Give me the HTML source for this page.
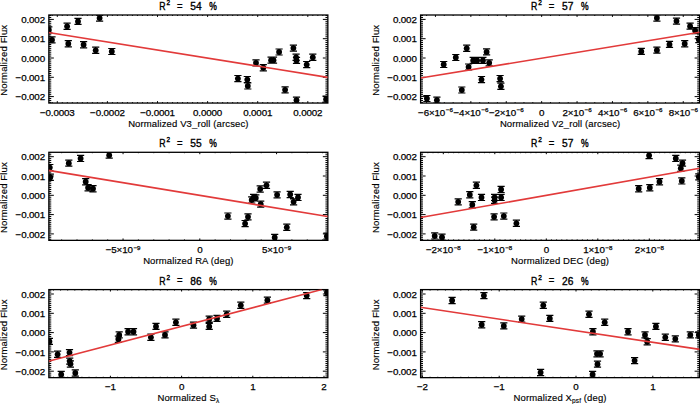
<!DOCTYPE html><html><head><meta charset="utf-8"><style>html,body{margin:0;padding:0;background:#fff;overflow:hidden}svg{display:block}text{stroke:#000;stroke-width:0.15px}.tt{stroke-width:0.35px}.tl{font-size:9.8px;letter-spacing:-0.15px;stroke-width:0.25px}</style></head><body>
<svg width="700" height="404" viewBox="0 0 700 404" font-family='"Liberation Sans", sans-serif' font-size="9.5">
<rect width="700" height="404" fill="#fff"/>
<g><clipPath id="c00"><rect x="48.85" y="15.00" width="279.00" height="88.05"/></clipPath><path d="M48.85 15.54h2.4 M327.85 15.54h-2.4 M48.85 17.47h2.4 M327.85 17.47h-2.4 M48.85 19.40h5.0 M327.85 19.40h-5.0 M48.85 21.33h2.4 M327.85 21.33h-2.4 M48.85 23.26h2.4 M327.85 23.26h-2.4 M48.85 25.19h2.4 M327.85 25.19h-2.4 M48.85 27.12h2.4 M327.85 27.12h-2.4 M48.85 29.05h2.4 M327.85 29.05h-2.4 M48.85 30.98h2.4 M327.85 30.98h-2.4 M48.85 32.91h2.4 M327.85 32.91h-2.4 M48.85 34.84h2.4 M327.85 34.84h-2.4 M48.85 36.77h2.4 M327.85 36.77h-2.4 M48.85 38.70h5.0 M327.85 38.70h-5.0 M48.85 40.63h2.4 M327.85 40.63h-2.4 M48.85 42.56h2.4 M327.85 42.56h-2.4 M48.85 44.49h2.4 M327.85 44.49h-2.4 M48.85 46.42h2.4 M327.85 46.42h-2.4 M48.85 48.35h2.4 M327.85 48.35h-2.4 M48.85 50.28h2.4 M327.85 50.28h-2.4 M48.85 52.21h2.4 M327.85 52.21h-2.4 M48.85 54.14h2.4 M327.85 54.14h-2.4 M48.85 56.07h2.4 M327.85 56.07h-2.4 M48.85 58.00h5.0 M327.85 58.00h-5.0 M48.85 59.93h2.4 M327.85 59.93h-2.4 M48.85 61.86h2.4 M327.85 61.86h-2.4 M48.85 63.79h2.4 M327.85 63.79h-2.4 M48.85 65.72h2.4 M327.85 65.72h-2.4 M48.85 67.65h2.4 M327.85 67.65h-2.4 M48.85 69.58h2.4 M327.85 69.58h-2.4 M48.85 71.51h2.4 M327.85 71.51h-2.4 M48.85 73.44h2.4 M327.85 73.44h-2.4 M48.85 75.37h2.4 M327.85 75.37h-2.4 M48.85 77.30h5.0 M327.85 77.30h-5.0 M48.85 79.23h2.4 M327.85 79.23h-2.4 M48.85 81.16h2.4 M327.85 81.16h-2.4 M48.85 83.09h2.4 M327.85 83.09h-2.4 M48.85 85.02h2.4 M327.85 85.02h-2.4 M48.85 86.95h2.4 M327.85 86.95h-2.4 M48.85 88.88h2.4 M327.85 88.88h-2.4 M48.85 90.81h2.4 M327.85 90.81h-2.4 M48.85 92.74h2.4 M327.85 92.74h-2.4 M48.85 94.67h2.4 M327.85 94.67h-2.4 M48.85 96.60h5.0 M327.85 96.60h-5.0 M48.85 98.53h2.4 M327.85 98.53h-2.4 M48.85 100.46h2.4 M327.85 100.46h-2.4 M48.85 102.39h2.4 M327.85 102.39h-2.4 M52.29 103.05v-0.9 M52.29 15.00v0.9 M57.30 103.05v-1.9 M57.30 15.00v1.9 M62.31 103.05v-0.9 M62.31 15.00v0.9 M67.32 103.05v-0.9 M67.32 15.00v0.9 M72.33 103.05v-0.9 M72.33 15.00v0.9 M77.34 103.05v-0.9 M77.34 15.00v0.9 M82.35 103.05v-0.9 M82.35 15.00v0.9 M87.36 103.05v-0.9 M87.36 15.00v0.9 M92.37 103.05v-0.9 M92.37 15.00v0.9 M97.38 103.05v-0.9 M97.38 15.00v0.9 M102.39 103.05v-0.9 M102.39 15.00v0.9 M107.40 103.05v-1.9 M107.40 15.00v1.9 M112.41 103.05v-0.9 M112.41 15.00v0.9 M117.42 103.05v-0.9 M117.42 15.00v0.9 M122.43 103.05v-0.9 M122.43 15.00v0.9 M127.44 103.05v-0.9 M127.44 15.00v0.9 M132.45 103.05v-0.9 M132.45 15.00v0.9 M137.46 103.05v-0.9 M137.46 15.00v0.9 M142.47 103.05v-0.9 M142.47 15.00v0.9 M147.48 103.05v-0.9 M147.48 15.00v0.9 M152.49 103.05v-0.9 M152.49 15.00v0.9 M157.50 103.05v-1.9 M157.50 15.00v1.9 M162.51 103.05v-0.9 M162.51 15.00v0.9 M167.52 103.05v-0.9 M167.52 15.00v0.9 M172.53 103.05v-0.9 M172.53 15.00v0.9 M177.54 103.05v-0.9 M177.54 15.00v0.9 M182.55 103.05v-0.9 M182.55 15.00v0.9 M187.56 103.05v-0.9 M187.56 15.00v0.9 M192.57 103.05v-0.9 M192.57 15.00v0.9 M197.58 103.05v-0.9 M197.58 15.00v0.9 M202.59 103.05v-0.9 M202.59 15.00v0.9 M207.60 103.05v-1.9 M207.60 15.00v1.9 M212.61 103.05v-0.9 M212.61 15.00v0.9 M217.62 103.05v-0.9 M217.62 15.00v0.9 M222.63 103.05v-0.9 M222.63 15.00v0.9 M227.64 103.05v-0.9 M227.64 15.00v0.9 M232.65 103.05v-0.9 M232.65 15.00v0.9 M237.66 103.05v-0.9 M237.66 15.00v0.9 M242.67 103.05v-0.9 M242.67 15.00v0.9 M247.68 103.05v-0.9 M247.68 15.00v0.9 M252.69 103.05v-0.9 M252.69 15.00v0.9 M257.70 103.05v-1.9 M257.70 15.00v1.9 M262.71 103.05v-0.9 M262.71 15.00v0.9 M267.72 103.05v-0.9 M267.72 15.00v0.9 M272.73 103.05v-0.9 M272.73 15.00v0.9 M277.74 103.05v-0.9 M277.74 15.00v0.9 M282.75 103.05v-0.9 M282.75 15.00v0.9 M287.76 103.05v-0.9 M287.76 15.00v0.9 M292.77 103.05v-0.9 M292.77 15.00v0.9 M297.78 103.05v-0.9 M297.78 15.00v0.9 M302.79 103.05v-0.9 M302.79 15.00v0.9 M307.80 103.05v-1.9 M307.80 15.00v1.9 M312.81 103.05v-0.9 M312.81 15.00v0.9 M317.82 103.05v-0.9 M317.82 15.00v0.9 M322.83 103.05v-0.9 M322.83 15.00v0.9" stroke="#000" stroke-width="1" fill="none"/><rect x="48.85" y="15.00" width="279.00" height="88.05" fill="none" stroke="#000" stroke-width="1.3"/><g clip-path="url(#c00)"><circle cx="48.8" cy="29.9" r="2.9"/><circle cx="52.0" cy="39.9" r="2.9"/><circle cx="67.1" cy="26.3" r="2.9"/><circle cx="68.3" cy="43.7" r="2.9"/><circle cx="78.0" cy="21.4" r="2.9"/><circle cx="83.6" cy="44.7" r="2.9"/><circle cx="95.7" cy="50.3" r="2.9"/><circle cx="99.6" cy="18.1" r="2.9"/><circle cx="111.8" cy="51.5" r="2.9"/><circle cx="237.9" cy="78.6" r="2.9"/><circle cx="247.3" cy="79.6" r="2.9"/><circle cx="247.8" cy="85.9" r="2.9"/><circle cx="256.0" cy="62.9" r="2.9"/><circle cx="263.3" cy="67.7" r="2.9"/><circle cx="271.1" cy="60.2" r="2.9"/><circle cx="273.5" cy="60.2" r="2.9"/><circle cx="279.1" cy="52.0" r="2.9"/><circle cx="285.1" cy="89.8" r="2.9"/><circle cx="293.4" cy="48.1" r="2.9"/><circle cx="296.1" cy="57.3" r="2.9"/><circle cx="296.5" cy="60.4" r="2.9"/><circle cx="296.5" cy="100.2" r="2.9"/><circle cx="306.7" cy="64.6" r="2.9"/><circle cx="312.8" cy="57.3" r="2.9"/><circle cx="326.1" cy="99.2" r="2.9"/><path d="M45.2 26.8h7.2M45.2 32.9h7.2M48.8 26.8v6.1M48.4 36.9h7.2M48.4 42.9h7.2M52.0 36.9v6.1M63.5 23.2h7.2M63.5 29.4h7.2M67.1 23.2v6.1M64.7 40.7h7.2M64.7 46.8h7.2M68.3 40.7v6.1M74.4 18.3h7.2M74.4 24.4h7.2M78.0 18.3v6.1M80.0 41.7h7.2M80.0 47.8h7.2M83.6 41.7v6.1M92.1 47.2h7.2M92.1 53.3h7.2M95.7 47.2v6.1M96.0 15.1h7.2M96.0 21.2h7.2M99.6 15.1v6.1M108.2 48.5h7.2M108.2 54.5h7.2M111.8 48.5v6.1M234.3 75.5h7.2M234.3 81.6h7.2M237.9 75.5v6.1M243.7 76.5h7.2M243.7 82.6h7.2M247.3 76.5v6.1M244.2 82.9h7.2M244.2 89.0h7.2M247.8 82.9v6.1M252.4 59.9h7.2M252.4 66.0h7.2M256.0 59.9v6.1M259.7 64.7h7.2M259.7 70.8h7.2M263.3 64.7v6.1M267.5 57.2h7.2M267.5 63.2h7.2M271.1 57.2v6.1M269.9 57.2h7.2M269.9 63.2h7.2M273.5 57.2v6.1M275.5 49.0h7.2M275.5 55.0h7.2M279.1 49.0v6.1M281.5 86.8h7.2M281.5 92.8h7.2M285.1 86.8v6.1M289.8 45.1h7.2M289.8 51.1h7.2M293.4 45.1v6.1M292.5 54.2h7.2M292.5 60.3h7.2M296.1 54.2v6.1M292.9 57.4h7.2M292.9 63.4h7.2M296.5 57.4v6.1M292.9 97.2h7.2M292.9 103.2h7.2M296.5 97.2v6.1M303.1 61.5h7.2M303.1 67.6h7.2M306.7 61.5v6.1M309.2 54.2h7.2M309.2 60.3h7.2M312.8 54.2v6.1M322.5 96.2h7.2M322.5 102.2h7.2M326.1 96.2v6.1" stroke="#000" stroke-width="1.2" fill="none"/></g><line x1="48.40" y1="32.50" x2="327.70" y2="77.40" stroke="#e23a3a" stroke-width="1.6" clip-path="url(#c00)"/><text transform="translate(44.95,23.00) scale(1,1.0)" text-anchor="end" class="tl">0.002</text><text transform="translate(44.95,42.30) scale(1,1.0)" text-anchor="end" class="tl">0.001</text><text transform="translate(44.95,61.60) scale(1,1.0)" text-anchor="end" class="tl">0.000</text><text transform="translate(44.95,80.90) scale(1,1.0)" text-anchor="end" class="tl">−0.001</text><text transform="translate(44.95,100.20) scale(1,1.0)" text-anchor="end" class="tl">−0.002</text><text transform="translate(7.45,60.23) rotate(-90)" text-anchor="middle" letter-spacing="0.15" stroke-width="0.05">Normalized Flux</text><text transform="translate(57.30,115.85) scale(1,1.0)" text-anchor="middle" class="tl">−0.0003</text><text transform="translate(107.40,115.85) scale(1,1.0)" text-anchor="middle" class="tl">−0.0002</text><text transform="translate(157.50,115.85) scale(1,1.0)" text-anchor="middle" class="tl">−0.0001</text><text transform="translate(207.60,115.85) scale(1,1.0)" text-anchor="middle" class="tl">0.0000</text><text transform="translate(257.70,115.85) scale(1,1.0)" text-anchor="middle" class="tl">0.0001</text><text transform="translate(307.80,115.85) scale(1,1.0)" text-anchor="middle" class="tl">0.0002</text><text transform="translate(188.35,126.55) scale(1,1.0)" text-anchor="middle" xml:space="preserve" letter-spacing="0.12">Normalized V3_roll (arcsec)</text><text transform="translate(159.25,9.90) scale(0.92,1.08)" class="tt">R</text><text transform="translate(166.55,5.00) scale(1,1.1)" font-size="6.5" class="tt">2</text><text transform="translate(177.05,9.80) scale(1,1.1)" class="tt">=</text><text transform="translate(190.35,9.90) scale(0.97,1.0)" font-size="10.5" class="tt">54</text><text transform="translate(209.25,9.90) scale(0.95,1.25)" font-size="9.0" class="tt">%</text></g>
<g><clipPath id="c10"><rect x="420.60" y="15.00" width="279.00" height="88.05"/></clipPath><path d="M420.60 15.54h2.4 M699.60 15.54h-2.4 M420.60 17.47h2.4 M699.60 17.47h-2.4 M420.60 19.40h5.0 M699.60 19.40h-5.0 M420.60 21.33h2.4 M699.60 21.33h-2.4 M420.60 23.26h2.4 M699.60 23.26h-2.4 M420.60 25.19h2.4 M699.60 25.19h-2.4 M420.60 27.12h2.4 M699.60 27.12h-2.4 M420.60 29.05h2.4 M699.60 29.05h-2.4 M420.60 30.98h2.4 M699.60 30.98h-2.4 M420.60 32.91h2.4 M699.60 32.91h-2.4 M420.60 34.84h2.4 M699.60 34.84h-2.4 M420.60 36.77h2.4 M699.60 36.77h-2.4 M420.60 38.70h5.0 M699.60 38.70h-5.0 M420.60 40.63h2.4 M699.60 40.63h-2.4 M420.60 42.56h2.4 M699.60 42.56h-2.4 M420.60 44.49h2.4 M699.60 44.49h-2.4 M420.60 46.42h2.4 M699.60 46.42h-2.4 M420.60 48.35h2.4 M699.60 48.35h-2.4 M420.60 50.28h2.4 M699.60 50.28h-2.4 M420.60 52.21h2.4 M699.60 52.21h-2.4 M420.60 54.14h2.4 M699.60 54.14h-2.4 M420.60 56.07h2.4 M699.60 56.07h-2.4 M420.60 58.00h5.0 M699.60 58.00h-5.0 M420.60 59.93h2.4 M699.60 59.93h-2.4 M420.60 61.86h2.4 M699.60 61.86h-2.4 M420.60 63.79h2.4 M699.60 63.79h-2.4 M420.60 65.72h2.4 M699.60 65.72h-2.4 M420.60 67.65h2.4 M699.60 67.65h-2.4 M420.60 69.58h2.4 M699.60 69.58h-2.4 M420.60 71.51h2.4 M699.60 71.51h-2.4 M420.60 73.44h2.4 M699.60 73.44h-2.4 M420.60 75.37h2.4 M699.60 75.37h-2.4 M420.60 77.30h5.0 M699.60 77.30h-5.0 M420.60 79.23h2.4 M699.60 79.23h-2.4 M420.60 81.16h2.4 M699.60 81.16h-2.4 M420.60 83.09h2.4 M699.60 83.09h-2.4 M420.60 85.02h2.4 M699.60 85.02h-2.4 M420.60 86.95h2.4 M699.60 86.95h-2.4 M420.60 88.88h2.4 M699.60 88.88h-2.4 M420.60 90.81h2.4 M699.60 90.81h-2.4 M420.60 92.74h2.4 M699.60 92.74h-2.4 M420.60 94.67h2.4 M699.60 94.67h-2.4 M420.60 96.60h5.0 M699.60 96.60h-5.0 M420.60 98.53h2.4 M699.60 98.53h-2.4 M420.60 100.46h2.4 M699.60 100.46h-2.4 M420.60 102.39h2.4 M699.60 102.39h-2.4 M426.60 103.05v-0.9 M426.60 15.00v0.9 M435.45 103.05v-1.9 M435.45 15.00v1.9 M444.30 103.05v-0.9 M444.30 15.00v0.9 M453.15 103.05v-0.9 M453.15 15.00v0.9 M462.00 103.05v-0.9 M462.00 15.00v0.9 M470.85 103.05v-1.9 M470.85 15.00v1.9 M479.70 103.05v-0.9 M479.70 15.00v0.9 M488.55 103.05v-0.9 M488.55 15.00v0.9 M497.40 103.05v-0.9 M497.40 15.00v0.9 M506.25 103.05v-1.9 M506.25 15.00v1.9 M515.10 103.05v-0.9 M515.10 15.00v0.9 M523.95 103.05v-0.9 M523.95 15.00v0.9 M532.80 103.05v-0.9 M532.80 15.00v0.9 M541.65 103.05v-1.9 M541.65 15.00v1.9 M550.50 103.05v-0.9 M550.50 15.00v0.9 M559.35 103.05v-0.9 M559.35 15.00v0.9 M568.20 103.05v-0.9 M568.20 15.00v0.9 M577.05 103.05v-1.9 M577.05 15.00v1.9 M585.90 103.05v-0.9 M585.90 15.00v0.9 M594.75 103.05v-0.9 M594.75 15.00v0.9 M603.60 103.05v-0.9 M603.60 15.00v0.9 M612.45 103.05v-1.9 M612.45 15.00v1.9 M621.30 103.05v-0.9 M621.30 15.00v0.9 M630.15 103.05v-0.9 M630.15 15.00v0.9 M639.00 103.05v-0.9 M639.00 15.00v0.9 M647.85 103.05v-1.9 M647.85 15.00v1.9 M656.70 103.05v-0.9 M656.70 15.00v0.9 M665.55 103.05v-0.9 M665.55 15.00v0.9 M674.40 103.05v-0.9 M674.40 15.00v0.9 M683.25 103.05v-1.9 M683.25 15.00v1.9 M692.10 103.05v-0.9 M692.10 15.00v0.9" stroke="#000" stroke-width="1" fill="none"/><rect x="420.60" y="15.00" width="279.00" height="88.05" fill="none" stroke="#000" stroke-width="1.3"/><g clip-path="url(#c10)"><circle cx="426.9" cy="98.5" r="2.9"/><circle cx="436.9" cy="100.2" r="2.9"/><circle cx="443.7" cy="64.5" r="2.9"/><circle cx="455.8" cy="57.5" r="2.9"/><circle cx="461.8" cy="90.0" r="2.9"/><circle cx="466.7" cy="48.3" r="2.9"/><circle cx="468.6" cy="67.0" r="2.9"/><circle cx="473.2" cy="60.4" r="2.9"/><circle cx="477.1" cy="60.4" r="2.9"/><circle cx="481.5" cy="79.6" r="2.9"/><circle cx="482.9" cy="60.4" r="2.9"/><circle cx="486.6" cy="51.9" r="2.9"/><circle cx="489.2" cy="62.8" r="2.9"/><circle cx="500.1" cy="78.6" r="2.9"/><circle cx="500.9" cy="86.3" r="2.9"/><circle cx="641.3" cy="51.4" r="2.9"/><circle cx="656.9" cy="18.0" r="2.9"/><circle cx="656.9" cy="50.2" r="2.9"/><circle cx="669.5" cy="44.4" r="2.9"/><circle cx="676.5" cy="21.1" r="2.9"/><circle cx="684.7" cy="43.7" r="2.9"/><circle cx="690.1" cy="26.2" r="2.9"/><circle cx="695.1" cy="30.6" r="2.9"/><circle cx="698.8" cy="39.6" r="2.9"/><path d="M423.3 95.5h7.2M423.3 101.5h7.2M426.9 95.5v6.1M433.3 97.2h7.2M433.3 103.2h7.2M436.9 97.2v6.1M440.1 61.5h7.2M440.1 67.5h7.2M443.7 61.5v6.1M452.2 54.5h7.2M452.2 60.5h7.2M455.8 54.5v6.1M458.2 87.0h7.2M458.2 93.0h7.2M461.8 87.0v6.1M463.1 45.2h7.2M463.1 51.3h7.2M466.7 45.2v6.1M465.0 64.0h7.2M465.0 70.0h7.2M468.6 64.0v6.1M469.6 57.4h7.2M469.6 63.4h7.2M473.2 57.4v6.1M473.5 57.4h7.2M473.5 63.4h7.2M477.1 57.4v6.1M477.9 76.5h7.2M477.9 82.6h7.2M481.5 76.5v6.1M479.3 57.4h7.2M479.3 63.4h7.2M482.9 57.4v6.1M483.0 48.9h7.2M483.0 54.9h7.2M486.6 48.9v6.1M485.6 59.8h7.2M485.6 65.8h7.2M489.2 59.8v6.1M496.5 75.5h7.2M496.5 81.6h7.2M500.1 75.5v6.1M497.3 83.2h7.2M497.3 89.3h7.2M500.9 83.2v6.1M637.7 48.4h7.2M637.7 54.4h7.2M641.3 48.4v6.1M653.3 14.9h7.2M653.3 21.1h7.2M656.9 14.9v6.1M653.3 47.2h7.2M653.3 53.2h7.2M656.9 47.2v6.1M665.9 41.4h7.2M665.9 47.4h7.2M669.5 41.4v6.1M672.9 18.1h7.2M672.9 24.2h7.2M676.5 18.1v6.1M681.1 40.7h7.2M681.1 46.8h7.2M684.7 40.7v6.1M686.5 23.1h7.2M686.5 29.2h7.2M690.1 23.1v6.1M691.5 27.6h7.2M691.5 33.6h7.2M695.1 27.6v6.1M695.2 36.6h7.2M695.2 42.6h7.2M698.8 36.6v6.1" stroke="#000" stroke-width="1.2" fill="none"/></g><line x1="420.60" y1="78.00" x2="699.70" y2="32.30" stroke="#e23a3a" stroke-width="1.6" clip-path="url(#c10)"/><text transform="translate(416.70,23.00) scale(1,1.0)" text-anchor="end" class="tl">0.002</text><text transform="translate(416.70,42.30) scale(1,1.0)" text-anchor="end" class="tl">0.001</text><text transform="translate(416.70,61.60) scale(1,1.0)" text-anchor="end" class="tl">0.000</text><text transform="translate(416.70,80.90) scale(1,1.0)" text-anchor="end" class="tl">−0.001</text><text transform="translate(416.70,100.20) scale(1,1.0)" text-anchor="end" class="tl">−0.002</text><text transform="translate(379.20,60.23) rotate(-90)" text-anchor="middle" letter-spacing="0.15" stroke-width="0.05">Normalized Flux</text><text transform="translate(435.45,115.85) scale(1,1.0)" text-anchor="middle" class="tl">−6×10<tspan font-size="6.2" dx="0.9" dy="-3.4">−6</tspan></text><text transform="translate(470.85,115.85) scale(1,1.0)" text-anchor="middle" class="tl">−4×10<tspan font-size="6.2" dx="0.9" dy="-3.4">−6</tspan></text><text transform="translate(506.25,115.85) scale(1,1.0)" text-anchor="middle" class="tl">−2×10<tspan font-size="6.2" dx="0.9" dy="-3.4">−6</tspan></text><text transform="translate(541.65,115.85) scale(1,1.0)" text-anchor="middle" class="tl">0</text><text transform="translate(577.05,115.85) scale(1,1.0)" text-anchor="middle" class="tl">2×10<tspan font-size="6.2" dx="0.9" dy="-3.4">−6</tspan></text><text transform="translate(612.45,115.85) scale(1,1.0)" text-anchor="middle" class="tl">4×10<tspan font-size="6.2" dx="0.9" dy="-3.4">−6</tspan></text><text transform="translate(647.85,115.85) scale(1,1.0)" text-anchor="middle" class="tl">6×10<tspan font-size="6.2" dx="0.9" dy="-3.4">−6</tspan></text><text transform="translate(683.25,115.85) scale(1,1.0)" text-anchor="middle" class="tl">8×10<tspan font-size="6.2" dx="0.9" dy="-3.4">−6</tspan></text><text transform="translate(560.10,126.55) scale(1,1.0)" text-anchor="middle" xml:space="preserve" letter-spacing="0.12">Normalized V2_roll (arcsec)</text><text transform="translate(531.00,9.90) scale(0.92,1.08)" class="tt">R</text><text transform="translate(538.30,5.00) scale(1,1.1)" font-size="6.5" class="tt">2</text><text transform="translate(548.80,9.80) scale(1,1.1)" class="tt">=</text><text transform="translate(562.10,9.90) scale(0.97,1.0)" font-size="10.5" class="tt">57</text><text transform="translate(581.00,9.90) scale(0.95,1.25)" font-size="9.0" class="tt">%</text></g>
<g><clipPath id="c01"><rect x="48.85" y="152.30" width="279.00" height="88.05"/></clipPath><path d="M48.85 152.84h2.4 M327.85 152.84h-2.4 M48.85 154.77h2.4 M327.85 154.77h-2.4 M48.85 156.70h5.0 M327.85 156.70h-5.0 M48.85 158.63h2.4 M327.85 158.63h-2.4 M48.85 160.56h2.4 M327.85 160.56h-2.4 M48.85 162.49h2.4 M327.85 162.49h-2.4 M48.85 164.42h2.4 M327.85 164.42h-2.4 M48.85 166.35h2.4 M327.85 166.35h-2.4 M48.85 168.28h2.4 M327.85 168.28h-2.4 M48.85 170.21h2.4 M327.85 170.21h-2.4 M48.85 172.14h2.4 M327.85 172.14h-2.4 M48.85 174.07h2.4 M327.85 174.07h-2.4 M48.85 176.00h5.0 M327.85 176.00h-5.0 M48.85 177.93h2.4 M327.85 177.93h-2.4 M48.85 179.86h2.4 M327.85 179.86h-2.4 M48.85 181.79h2.4 M327.85 181.79h-2.4 M48.85 183.72h2.4 M327.85 183.72h-2.4 M48.85 185.65h2.4 M327.85 185.65h-2.4 M48.85 187.58h2.4 M327.85 187.58h-2.4 M48.85 189.51h2.4 M327.85 189.51h-2.4 M48.85 191.44h2.4 M327.85 191.44h-2.4 M48.85 193.37h2.4 M327.85 193.37h-2.4 M48.85 195.30h5.0 M327.85 195.30h-5.0 M48.85 197.23h2.4 M327.85 197.23h-2.4 M48.85 199.16h2.4 M327.85 199.16h-2.4 M48.85 201.09h2.4 M327.85 201.09h-2.4 M48.85 203.02h2.4 M327.85 203.02h-2.4 M48.85 204.95h2.4 M327.85 204.95h-2.4 M48.85 206.88h2.4 M327.85 206.88h-2.4 M48.85 208.81h2.4 M327.85 208.81h-2.4 M48.85 210.74h2.4 M327.85 210.74h-2.4 M48.85 212.67h2.4 M327.85 212.67h-2.4 M48.85 214.60h5.0 M327.85 214.60h-5.0 M48.85 216.53h2.4 M327.85 216.53h-2.4 M48.85 218.46h2.4 M327.85 218.46h-2.4 M48.85 220.39h2.4 M327.85 220.39h-2.4 M48.85 222.32h2.4 M327.85 222.32h-2.4 M48.85 224.25h2.4 M327.85 224.25h-2.4 M48.85 226.18h2.4 M327.85 226.18h-2.4 M48.85 228.11h2.4 M327.85 228.11h-2.4 M48.85 230.04h2.4 M327.85 230.04h-2.4 M48.85 231.97h2.4 M327.85 231.97h-2.4 M48.85 233.90h5.0 M327.85 233.90h-5.0 M48.85 235.83h2.4 M327.85 235.83h-2.4 M48.85 237.76h2.4 M327.85 237.76h-2.4 M48.85 239.69h2.4 M327.85 239.69h-2.4 M61.65 240.35v-0.9 M61.65 152.30v0.9 M77.00 240.35v-0.9 M77.00 152.30v0.9 M92.35 240.35v-0.9 M92.35 152.30v0.9 M107.70 240.35v-0.9 M107.70 152.30v0.9 M123.05 240.35v-1.9 M123.05 152.30v1.9 M138.40 240.35v-0.9 M138.40 152.30v0.9 M153.75 240.35v-0.9 M153.75 152.30v0.9 M169.10 240.35v-0.9 M169.10 152.30v0.9 M184.45 240.35v-0.9 M184.45 152.30v0.9 M199.80 240.35v-1.9 M199.80 152.30v1.9 M215.15 240.35v-0.9 M215.15 152.30v0.9 M230.50 240.35v-0.9 M230.50 152.30v0.9 M245.85 240.35v-0.9 M245.85 152.30v0.9 M261.20 240.35v-0.9 M261.20 152.30v0.9 M276.55 240.35v-1.9 M276.55 152.30v1.9 M291.90 240.35v-0.9 M291.90 152.30v0.9 M307.25 240.35v-0.9 M307.25 152.30v0.9 M322.60 240.35v-0.9 M322.60 152.30v0.9" stroke="#000" stroke-width="1" fill="none"/><rect x="48.85" y="152.30" width="279.00" height="88.05" fill="none" stroke="#000" stroke-width="1.3"/><g clip-path="url(#c01)"><circle cx="49.8" cy="167.6" r="2.9"/><circle cx="50.3" cy="177.3" r="2.9"/><circle cx="68.8" cy="163.2" r="2.9"/><circle cx="80.6" cy="158.4" r="2.9"/><circle cx="85.7" cy="181.7" r="2.9"/><circle cx="88.1" cy="187.7" r="2.9"/><circle cx="93.0" cy="188.7" r="2.9"/><circle cx="109.2" cy="155.2" r="2.9"/><circle cx="227.9" cy="216.1" r="2.9"/><circle cx="245.1" cy="223.6" r="2.9"/><circle cx="248.0" cy="216.8" r="2.9"/><circle cx="251.7" cy="199.9" r="2.9"/><circle cx="253.6" cy="197.4" r="2.9"/><circle cx="255.8" cy="197.9" r="2.9"/><circle cx="260.7" cy="204.2" r="2.9"/><circle cx="260.2" cy="189.0" r="2.9"/><circle cx="266.5" cy="185.3" r="2.9"/><circle cx="274.7" cy="237.4" r="2.9"/><circle cx="277.1" cy="194.8" r="2.9"/><circle cx="286.8" cy="227.3" r="2.9"/><circle cx="290.2" cy="194.5" r="2.9"/><circle cx="293.6" cy="201.8" r="2.9"/><circle cx="298.0" cy="197.4" r="2.9"/><circle cx="326.9" cy="236.2" r="2.9"/><path d="M46.2 164.5h7.2M46.2 170.7h7.2M49.8 164.5v6.1M46.7 174.2h7.2M46.7 180.4h7.2M50.3 174.2v6.1M65.2 160.1h7.2M65.2 166.2h7.2M68.8 160.1v6.1M77.0 155.3h7.2M77.0 161.5h7.2M80.6 155.3v6.1M82.1 178.6h7.2M82.1 184.8h7.2M85.7 178.6v6.1M84.5 184.6h7.2M84.5 190.8h7.2M88.1 184.6v6.1M89.4 185.6h7.2M89.4 191.8h7.2M93.0 185.6v6.1M105.6 152.1h7.2M105.6 158.2h7.2M109.2 152.1v6.1M224.3 213.0h7.2M224.3 219.2h7.2M227.9 213.0v6.1M241.5 220.5h7.2M241.5 226.7h7.2M245.1 220.5v6.1M244.4 213.8h7.2M244.4 219.9h7.2M248.0 213.8v6.1M248.1 196.8h7.2M248.1 203.0h7.2M251.7 196.8v6.1M250.0 194.3h7.2M250.0 200.5h7.2M253.6 194.3v6.1M252.2 194.8h7.2M252.2 201.0h7.2M255.8 194.8v6.1M257.1 201.1h7.2M257.1 207.2h7.2M260.7 201.1v6.1M256.6 185.9h7.2M256.6 192.1h7.2M260.2 185.9v6.1M262.9 182.2h7.2M262.9 188.4h7.2M266.5 182.2v6.1M271.1 234.3h7.2M271.1 240.5h7.2M274.7 234.3v6.1M273.5 191.8h7.2M273.5 197.9h7.2M277.1 191.8v6.1M283.2 224.2h7.2M283.2 230.4h7.2M286.8 224.2v6.1M286.6 191.4h7.2M286.6 197.6h7.2M290.2 191.4v6.1M290.0 198.8h7.2M290.0 204.9h7.2M293.6 198.8v6.1M294.4 194.3h7.2M294.4 200.5h7.2M298.0 194.3v6.1M323.3 233.1h7.2M323.3 239.2h7.2M326.9 233.1v6.1" stroke="#000" stroke-width="1.2" fill="none"/></g><line x1="48.40" y1="170.40" x2="327.70" y2="216.50" stroke="#e23a3a" stroke-width="1.6" clip-path="url(#c01)"/><text transform="translate(44.95,160.30) scale(1,1.0)" text-anchor="end" class="tl">0.002</text><text transform="translate(44.95,179.60) scale(1,1.0)" text-anchor="end" class="tl">0.001</text><text transform="translate(44.95,198.90) scale(1,1.0)" text-anchor="end" class="tl">0.000</text><text transform="translate(44.95,218.20) scale(1,1.0)" text-anchor="end" class="tl">−0.001</text><text transform="translate(44.95,237.50) scale(1,1.0)" text-anchor="end" class="tl">−0.002</text><text transform="translate(7.45,197.53) rotate(-90)" text-anchor="middle" letter-spacing="0.15" stroke-width="0.05">Normalized Flux</text><text transform="translate(123.05,253.15) scale(1,1.0)" text-anchor="middle" class="tl">−5×10<tspan font-size="6.2" dx="0.9" dy="-3.4">−9</tspan></text><text transform="translate(199.80,253.15) scale(1,1.0)" text-anchor="middle" class="tl">0</text><text transform="translate(276.55,253.15) scale(1,1.0)" text-anchor="middle" class="tl">5×10<tspan font-size="6.2" dx="0.9" dy="-3.4">−9</tspan></text><text transform="translate(188.35,263.85) scale(1,1.0)" text-anchor="middle" xml:space="preserve" letter-spacing="0.12">Normalized RA (deg)</text><text transform="translate(159.25,147.20) scale(0.92,1.08)" class="tt">R</text><text transform="translate(166.55,142.30) scale(1,1.1)" font-size="6.5" class="tt">2</text><text transform="translate(177.05,147.10) scale(1,1.1)" class="tt">=</text><text transform="translate(190.35,147.20) scale(0.97,1.0)" font-size="10.5" class="tt">55</text><text transform="translate(209.25,147.20) scale(0.95,1.25)" font-size="9.0" class="tt">%</text></g>
<g><clipPath id="c11"><rect x="420.60" y="152.30" width="279.00" height="88.05"/></clipPath><path d="M420.60 152.84h2.4 M699.60 152.84h-2.4 M420.60 154.77h2.4 M699.60 154.77h-2.4 M420.60 156.70h5.0 M699.60 156.70h-5.0 M420.60 158.63h2.4 M699.60 158.63h-2.4 M420.60 160.56h2.4 M699.60 160.56h-2.4 M420.60 162.49h2.4 M699.60 162.49h-2.4 M420.60 164.42h2.4 M699.60 164.42h-2.4 M420.60 166.35h2.4 M699.60 166.35h-2.4 M420.60 168.28h2.4 M699.60 168.28h-2.4 M420.60 170.21h2.4 M699.60 170.21h-2.4 M420.60 172.14h2.4 M699.60 172.14h-2.4 M420.60 174.07h2.4 M699.60 174.07h-2.4 M420.60 176.00h5.0 M699.60 176.00h-5.0 M420.60 177.93h2.4 M699.60 177.93h-2.4 M420.60 179.86h2.4 M699.60 179.86h-2.4 M420.60 181.79h2.4 M699.60 181.79h-2.4 M420.60 183.72h2.4 M699.60 183.72h-2.4 M420.60 185.65h2.4 M699.60 185.65h-2.4 M420.60 187.58h2.4 M699.60 187.58h-2.4 M420.60 189.51h2.4 M699.60 189.51h-2.4 M420.60 191.44h2.4 M699.60 191.44h-2.4 M420.60 193.37h2.4 M699.60 193.37h-2.4 M420.60 195.30h5.0 M699.60 195.30h-5.0 M420.60 197.23h2.4 M699.60 197.23h-2.4 M420.60 199.16h2.4 M699.60 199.16h-2.4 M420.60 201.09h2.4 M699.60 201.09h-2.4 M420.60 203.02h2.4 M699.60 203.02h-2.4 M420.60 204.95h2.4 M699.60 204.95h-2.4 M420.60 206.88h2.4 M699.60 206.88h-2.4 M420.60 208.81h2.4 M699.60 208.81h-2.4 M420.60 210.74h2.4 M699.60 210.74h-2.4 M420.60 212.67h2.4 M699.60 212.67h-2.4 M420.60 214.60h5.0 M699.60 214.60h-5.0 M420.60 216.53h2.4 M699.60 216.53h-2.4 M420.60 218.46h2.4 M699.60 218.46h-2.4 M420.60 220.39h2.4 M699.60 220.39h-2.4 M420.60 222.32h2.4 M699.60 222.32h-2.4 M420.60 224.25h2.4 M699.60 224.25h-2.4 M420.60 226.18h2.4 M699.60 226.18h-2.4 M420.60 228.11h2.4 M699.60 228.11h-2.4 M420.60 230.04h2.4 M699.60 230.04h-2.4 M420.60 231.97h2.4 M699.60 231.97h-2.4 M420.60 233.90h5.0 M699.60 233.90h-5.0 M420.60 235.83h2.4 M699.60 235.83h-2.4 M420.60 237.76h2.4 M699.60 237.76h-2.4 M420.60 239.69h2.4 M699.60 239.69h-2.4 M422.70 240.35v-0.9 M422.70 152.30v0.9 M427.85 240.35v-0.9 M427.85 152.30v0.9 M433.00 240.35v-0.9 M433.00 152.30v0.9 M438.15 240.35v-0.9 M438.15 152.30v0.9 M443.30 240.35v-1.9 M443.30 152.30v1.9 M448.45 240.35v-0.9 M448.45 152.30v0.9 M453.60 240.35v-0.9 M453.60 152.30v0.9 M458.75 240.35v-0.9 M458.75 152.30v0.9 M463.90 240.35v-0.9 M463.90 152.30v0.9 M469.05 240.35v-0.9 M469.05 152.30v0.9 M474.20 240.35v-0.9 M474.20 152.30v0.9 M479.35 240.35v-0.9 M479.35 152.30v0.9 M484.50 240.35v-0.9 M484.50 152.30v0.9 M489.65 240.35v-0.9 M489.65 152.30v0.9 M494.80 240.35v-1.9 M494.80 152.30v1.9 M499.95 240.35v-0.9 M499.95 152.30v0.9 M505.10 240.35v-0.9 M505.10 152.30v0.9 M510.25 240.35v-0.9 M510.25 152.30v0.9 M515.40 240.35v-0.9 M515.40 152.30v0.9 M520.55 240.35v-0.9 M520.55 152.30v0.9 M525.70 240.35v-0.9 M525.70 152.30v0.9 M530.85 240.35v-0.9 M530.85 152.30v0.9 M536.00 240.35v-0.9 M536.00 152.30v0.9 M541.15 240.35v-0.9 M541.15 152.30v0.9 M546.30 240.35v-1.9 M546.30 152.30v1.9 M551.45 240.35v-0.9 M551.45 152.30v0.9 M556.60 240.35v-0.9 M556.60 152.30v0.9 M561.75 240.35v-0.9 M561.75 152.30v0.9 M566.90 240.35v-0.9 M566.90 152.30v0.9 M572.05 240.35v-0.9 M572.05 152.30v0.9 M577.20 240.35v-0.9 M577.20 152.30v0.9 M582.35 240.35v-0.9 M582.35 152.30v0.9 M587.50 240.35v-0.9 M587.50 152.30v0.9 M592.65 240.35v-0.9 M592.65 152.30v0.9 M597.80 240.35v-1.9 M597.80 152.30v1.9 M602.95 240.35v-0.9 M602.95 152.30v0.9 M608.10 240.35v-0.9 M608.10 152.30v0.9 M613.25 240.35v-0.9 M613.25 152.30v0.9 M618.40 240.35v-0.9 M618.40 152.30v0.9 M623.55 240.35v-0.9 M623.55 152.30v0.9 M628.70 240.35v-0.9 M628.70 152.30v0.9 M633.85 240.35v-0.9 M633.85 152.30v0.9 M639.00 240.35v-0.9 M639.00 152.30v0.9 M644.15 240.35v-0.9 M644.15 152.30v0.9 M649.30 240.35v-1.9 M649.30 152.30v1.9 M654.45 240.35v-0.9 M654.45 152.30v0.9 M659.60 240.35v-0.9 M659.60 152.30v0.9 M664.75 240.35v-0.9 M664.75 152.30v0.9 M669.90 240.35v-0.9 M669.90 152.30v0.9 M675.05 240.35v-0.9 M675.05 152.30v0.9 M680.20 240.35v-0.9 M680.20 152.30v0.9 M685.35 240.35v-0.9 M685.35 152.30v0.9 M690.50 240.35v-0.9 M690.50 152.30v0.9 M695.65 240.35v-0.9 M695.65 152.30v0.9" stroke="#000" stroke-width="1" fill="none"/><rect x="420.60" y="152.30" width="279.00" height="88.05" fill="none" stroke="#000" stroke-width="1.3"/><g clip-path="url(#c11)"><circle cx="434.7" cy="235.9" r="2.9"/><circle cx="442.0" cy="237.2" r="2.9"/><circle cx="458.2" cy="201.8" r="2.9"/><circle cx="469.8" cy="194.7" r="2.9"/><circle cx="472.3" cy="204.7" r="2.9"/><circle cx="473.7" cy="227.2" r="2.9"/><circle cx="476.4" cy="185.3" r="2.9"/><circle cx="481.5" cy="197.4" r="2.9"/><circle cx="494.1" cy="216.8" r="2.9"/><circle cx="494.6" cy="197.4" r="2.9"/><circle cx="494.6" cy="200.3" r="2.9"/><circle cx="501.1" cy="189.4" r="2.9"/><circle cx="501.1" cy="197.4" r="2.9"/><circle cx="503.8" cy="216.1" r="2.9"/><circle cx="516.4" cy="223.3" r="2.9"/><circle cx="638.7" cy="188.7" r="2.9"/><circle cx="649.1" cy="155.5" r="2.9"/><circle cx="649.8" cy="187.7" r="2.9"/><circle cx="659.5" cy="181.7" r="2.9"/><circle cx="675.8" cy="158.4" r="2.9"/><circle cx="682.5" cy="163.2" r="2.9"/><circle cx="680.8" cy="168.3" r="2.9"/><circle cx="681.8" cy="180.9" r="2.9"/><circle cx="698.8" cy="176.8" r="2.9"/><path d="M431.1 232.8h7.2M431.1 239.0h7.2M434.7 232.8v6.1M438.4 234.1h7.2M438.4 240.2h7.2M442.0 234.1v6.1M454.6 198.8h7.2M454.6 204.9h7.2M458.2 198.8v6.1M466.2 191.6h7.2M466.2 197.8h7.2M469.8 191.6v6.1M468.7 201.6h7.2M468.7 207.8h7.2M472.3 201.6v6.1M470.1 224.1h7.2M470.1 230.2h7.2M473.7 224.1v6.1M472.8 182.2h7.2M472.8 188.4h7.2M476.4 182.2v6.1M477.9 194.3h7.2M477.9 200.5h7.2M481.5 194.3v6.1M490.5 213.8h7.2M490.5 219.9h7.2M494.1 213.8v6.1M491.0 194.3h7.2M491.0 200.5h7.2M494.6 194.3v6.1M491.0 197.2h7.2M491.0 203.4h7.2M494.6 197.2v6.1M497.5 186.3h7.2M497.5 192.5h7.2M501.1 186.3v6.1M497.5 194.3h7.2M497.5 200.5h7.2M501.1 194.3v6.1M500.2 213.0h7.2M500.2 219.2h7.2M503.8 213.0v6.1M512.8 220.2h7.2M512.8 226.4h7.2M516.4 220.2v6.1M635.1 185.6h7.2M635.1 191.8h7.2M638.7 185.6v6.1M645.5 152.4h7.2M645.5 158.6h7.2M649.1 152.4v6.1M646.2 184.6h7.2M646.2 190.8h7.2M649.8 184.6v6.1M655.9 178.6h7.2M655.9 184.8h7.2M659.5 178.6v6.1M672.2 155.3h7.2M672.2 161.5h7.2M675.8 155.3v6.1M678.9 160.1h7.2M678.9 166.2h7.2M682.5 160.1v6.1M677.2 165.2h7.2M677.2 171.4h7.2M680.8 165.2v6.1M678.2 177.8h7.2M678.2 184.0h7.2M681.8 177.8v6.1M695.2 173.8h7.2M695.2 179.9h7.2M698.8 173.8v6.1" stroke="#000" stroke-width="1.2" fill="none"/></g><line x1="420.40" y1="217.50" x2="699.70" y2="168.30" stroke="#e23a3a" stroke-width="1.6" clip-path="url(#c11)"/><text transform="translate(416.70,160.30) scale(1,1.0)" text-anchor="end" class="tl">0.002</text><text transform="translate(416.70,179.60) scale(1,1.0)" text-anchor="end" class="tl">0.001</text><text transform="translate(416.70,198.90) scale(1,1.0)" text-anchor="end" class="tl">0.000</text><text transform="translate(416.70,218.20) scale(1,1.0)" text-anchor="end" class="tl">−0.001</text><text transform="translate(416.70,237.50) scale(1,1.0)" text-anchor="end" class="tl">−0.002</text><text transform="translate(379.20,197.53) rotate(-90)" text-anchor="middle" letter-spacing="0.15" stroke-width="0.05">Normalized Flux</text><text transform="translate(443.30,253.15) scale(1,1.0)" text-anchor="middle" class="tl">−2×10<tspan font-size="6.2" dx="0.9" dy="-3.4">−8</tspan></text><text transform="translate(494.80,253.15) scale(1,1.0)" text-anchor="middle" class="tl">−1×10<tspan font-size="6.2" dx="0.9" dy="-3.4">−8</tspan></text><text transform="translate(546.30,253.15) scale(1,1.0)" text-anchor="middle" class="tl">0</text><text transform="translate(597.80,253.15) scale(1,1.0)" text-anchor="middle" class="tl">1×10<tspan font-size="6.2" dx="0.9" dy="-3.4">−8</tspan></text><text transform="translate(649.30,253.15) scale(1,1.0)" text-anchor="middle" class="tl">2×10<tspan font-size="6.2" dx="0.9" dy="-3.4">−8</tspan></text><text transform="translate(560.10,263.85) scale(1,1.0)" text-anchor="middle" xml:space="preserve" letter-spacing="0.12">Normalized DEC (deg)</text><text transform="translate(531.00,147.20) scale(0.92,1.08)" class="tt">R</text><text transform="translate(538.30,142.30) scale(1,1.1)" font-size="6.5" class="tt">2</text><text transform="translate(548.80,147.10) scale(1,1.1)" class="tt">=</text><text transform="translate(562.10,147.20) scale(0.97,1.0)" font-size="10.5" class="tt">57</text><text transform="translate(581.00,147.20) scale(0.95,1.25)" font-size="9.0" class="tt">%</text></g>
<g><clipPath id="c02"><rect x="48.85" y="289.60" width="279.00" height="88.05"/></clipPath><path d="M48.85 290.14h2.4 M327.85 290.14h-2.4 M48.85 292.07h2.4 M327.85 292.07h-2.4 M48.85 294.00h5.0 M327.85 294.00h-5.0 M48.85 295.93h2.4 M327.85 295.93h-2.4 M48.85 297.86h2.4 M327.85 297.86h-2.4 M48.85 299.79h2.4 M327.85 299.79h-2.4 M48.85 301.72h2.4 M327.85 301.72h-2.4 M48.85 303.65h2.4 M327.85 303.65h-2.4 M48.85 305.58h2.4 M327.85 305.58h-2.4 M48.85 307.51h2.4 M327.85 307.51h-2.4 M48.85 309.44h2.4 M327.85 309.44h-2.4 M48.85 311.37h2.4 M327.85 311.37h-2.4 M48.85 313.30h5.0 M327.85 313.30h-5.0 M48.85 315.23h2.4 M327.85 315.23h-2.4 M48.85 317.16h2.4 M327.85 317.16h-2.4 M48.85 319.09h2.4 M327.85 319.09h-2.4 M48.85 321.02h2.4 M327.85 321.02h-2.4 M48.85 322.95h2.4 M327.85 322.95h-2.4 M48.85 324.88h2.4 M327.85 324.88h-2.4 M48.85 326.81h2.4 M327.85 326.81h-2.4 M48.85 328.74h2.4 M327.85 328.74h-2.4 M48.85 330.67h2.4 M327.85 330.67h-2.4 M48.85 332.60h5.0 M327.85 332.60h-5.0 M48.85 334.53h2.4 M327.85 334.53h-2.4 M48.85 336.46h2.4 M327.85 336.46h-2.4 M48.85 338.39h2.4 M327.85 338.39h-2.4 M48.85 340.32h2.4 M327.85 340.32h-2.4 M48.85 342.25h2.4 M327.85 342.25h-2.4 M48.85 344.18h2.4 M327.85 344.18h-2.4 M48.85 346.11h2.4 M327.85 346.11h-2.4 M48.85 348.04h2.4 M327.85 348.04h-2.4 M48.85 349.97h2.4 M327.85 349.97h-2.4 M48.85 351.90h5.0 M327.85 351.90h-5.0 M48.85 353.83h2.4 M327.85 353.83h-2.4 M48.85 355.76h2.4 M327.85 355.76h-2.4 M48.85 357.69h2.4 M327.85 357.69h-2.4 M48.85 359.62h2.4 M327.85 359.62h-2.4 M48.85 361.55h2.4 M327.85 361.55h-2.4 M48.85 363.48h2.4 M327.85 363.48h-2.4 M48.85 365.41h2.4 M327.85 365.41h-2.4 M48.85 367.34h2.4 M327.85 367.34h-2.4 M48.85 369.27h2.4 M327.85 369.27h-2.4 M48.85 371.20h5.0 M327.85 371.20h-5.0 M48.85 373.13h2.4 M327.85 373.13h-2.4 M48.85 375.06h2.4 M327.85 375.06h-2.4 M48.85 376.99h2.4 M327.85 376.99h-2.4 M53.44 377.65v-0.9 M53.44 289.60v0.9 M60.56 377.65v-0.9 M60.56 289.60v0.9 M67.68 377.65v-0.9 M67.68 289.60v0.9 M74.80 377.65v-0.9 M74.80 289.60v0.9 M81.92 377.65v-0.9 M81.92 289.60v0.9 M89.04 377.65v-0.9 M89.04 289.60v0.9 M96.16 377.65v-0.9 M96.16 289.60v0.9 M103.28 377.65v-0.9 M103.28 289.60v0.9 M110.40 377.65v-1.9 M110.40 289.60v1.9 M117.52 377.65v-0.9 M117.52 289.60v0.9 M124.64 377.65v-0.9 M124.64 289.60v0.9 M131.76 377.65v-0.9 M131.76 289.60v0.9 M138.88 377.65v-0.9 M138.88 289.60v0.9 M146.00 377.65v-0.9 M146.00 289.60v0.9 M153.12 377.65v-0.9 M153.12 289.60v0.9 M160.24 377.65v-0.9 M160.24 289.60v0.9 M167.36 377.65v-0.9 M167.36 289.60v0.9 M174.48 377.65v-0.9 M174.48 289.60v0.9 M181.60 377.65v-1.9 M181.60 289.60v1.9 M188.72 377.65v-0.9 M188.72 289.60v0.9 M195.84 377.65v-0.9 M195.84 289.60v0.9 M202.96 377.65v-0.9 M202.96 289.60v0.9 M210.08 377.65v-0.9 M210.08 289.60v0.9 M217.20 377.65v-0.9 M217.20 289.60v0.9 M224.32 377.65v-0.9 M224.32 289.60v0.9 M231.44 377.65v-0.9 M231.44 289.60v0.9 M238.56 377.65v-0.9 M238.56 289.60v0.9 M245.68 377.65v-0.9 M245.68 289.60v0.9 M252.80 377.65v-1.9 M252.80 289.60v1.9 M259.92 377.65v-0.9 M259.92 289.60v0.9 M267.04 377.65v-0.9 M267.04 289.60v0.9 M274.16 377.65v-0.9 M274.16 289.60v0.9 M281.28 377.65v-0.9 M281.28 289.60v0.9 M288.40 377.65v-0.9 M288.40 289.60v0.9 M295.52 377.65v-0.9 M295.52 289.60v0.9 M302.64 377.65v-0.9 M302.64 289.60v0.9 M309.76 377.65v-0.9 M309.76 289.60v0.9 M316.88 377.65v-0.9 M316.88 289.60v0.9 M324.00 377.65v-1.9 M324.00 289.60v1.9" stroke="#000" stroke-width="1" fill="none"/><rect x="48.85" y="289.60" width="279.00" height="88.05" fill="none" stroke="#000" stroke-width="1.3"/><g clip-path="url(#c02)"><circle cx="49.4" cy="341.4" r="2.9"/><circle cx="57.6" cy="354.3" r="2.9"/><circle cx="61.2" cy="374.4" r="2.9"/><circle cx="69.5" cy="352.6" r="2.9"/><circle cx="69.7" cy="361.1" r="2.9"/><circle cx="70.4" cy="364.0" r="2.9"/><circle cx="75.3" cy="373.0" r="2.9"/><circle cx="118.4" cy="339.3" r="2.9"/><circle cx="119.2" cy="334.9" r="2.9"/><circle cx="128.1" cy="331.7" r="2.9"/><circle cx="133.5" cy="331.7" r="2.9"/><circle cx="150.9" cy="337.3" r="2.9"/><circle cx="156.0" cy="326.4" r="2.9"/><circle cx="165.0" cy="334.9" r="2.9"/><circle cx="175.9" cy="322.3" r="2.9"/><circle cx="193.5" cy="325.2" r="2.9"/><circle cx="209.2" cy="319.2" r="2.9"/><circle cx="209.2" cy="326.4" r="2.9"/><circle cx="217.0" cy="318.4" r="2.9"/><circle cx="226.7" cy="314.3" r="2.9"/><circle cx="240.8" cy="305.3" r="2.9"/><circle cx="267.4" cy="300.2" r="2.9"/><circle cx="306.7" cy="295.6" r="2.9"/><circle cx="327.0" cy="292.5" r="2.9"/><path d="M45.8 338.3h7.2M45.8 344.4h7.2M49.4 338.3v6.1M54.0 351.2h7.2M54.0 357.4h7.2M57.6 351.2v6.1M57.6 371.3h7.2M57.6 377.4h7.2M61.2 371.3v6.1M65.9 349.6h7.2M65.9 355.7h7.2M69.5 349.6v6.1M66.1 358.1h7.2M66.1 364.2h7.2M69.7 358.1v6.1M66.8 360.9h7.2M66.8 367.1h7.2M70.4 360.9v6.1M71.7 369.9h7.2M71.7 376.1h7.2M75.3 369.9v6.1M114.8 336.2h7.2M114.8 342.4h7.2M118.4 336.2v6.1M115.6 331.8h7.2M115.6 337.9h7.2M119.2 331.8v6.1M124.5 328.6h7.2M124.5 334.8h7.2M128.1 328.6v6.1M129.9 328.6h7.2M129.9 334.8h7.2M133.5 328.6v6.1M147.3 334.2h7.2M147.3 340.4h7.2M150.9 334.2v6.1M152.4 323.3h7.2M152.4 329.4h7.2M156.0 323.3v6.1M161.4 331.8h7.2M161.4 337.9h7.2M165.0 331.8v6.1M172.3 319.2h7.2M172.3 325.4h7.2M175.9 319.2v6.1M189.9 322.1h7.2M189.9 328.2h7.2M193.5 322.1v6.1M205.6 316.1h7.2M205.6 322.2h7.2M209.2 316.1v6.1M205.6 323.3h7.2M205.6 329.4h7.2M209.2 323.3v6.1M213.4 315.3h7.2M213.4 321.4h7.2M217.0 315.3v6.1M223.1 311.2h7.2M223.1 317.4h7.2M226.7 311.2v6.1M237.2 302.2h7.2M237.2 308.4h7.2M240.8 302.2v6.1M263.8 297.1h7.2M263.8 303.2h7.2M267.4 297.1v6.1M303.1 292.6h7.2M303.1 298.7h7.2M306.7 292.6v6.1M323.4 289.4h7.2M323.4 295.6h7.2M327.0 289.4v6.1" stroke="#000" stroke-width="1.2" fill="none"/></g><line x1="48.40" y1="361.20" x2="321.80" y2="289.60" stroke="#e23a3a" stroke-width="1.6" clip-path="url(#c02)"/><text transform="translate(44.95,297.60) scale(1,1.0)" text-anchor="end" class="tl">0.002</text><text transform="translate(44.95,316.90) scale(1,1.0)" text-anchor="end" class="tl">0.001</text><text transform="translate(44.95,336.20) scale(1,1.0)" text-anchor="end" class="tl">0.000</text><text transform="translate(44.95,355.50) scale(1,1.0)" text-anchor="end" class="tl">−0.001</text><text transform="translate(44.95,374.80) scale(1,1.0)" text-anchor="end" class="tl">−0.002</text><text transform="translate(7.45,334.82) rotate(-90)" text-anchor="middle" letter-spacing="0.15" stroke-width="0.05">Normalized Flux</text><text transform="translate(110.40,390.45) scale(1,1.0)" text-anchor="middle" class="tl">−1</text><text transform="translate(181.60,390.45) scale(1,1.0)" text-anchor="middle" class="tl">0</text><text transform="translate(252.80,390.45) scale(1,1.0)" text-anchor="middle" class="tl">1</text><text transform="translate(324.00,390.45) scale(1,1.0)" text-anchor="middle" class="tl">2</text><text transform="translate(188.35,401.15) scale(1,1.0)" text-anchor="middle" xml:space="preserve" letter-spacing="0.12">Normalized S<tspan font-size="6.5" dy="1.8">λ</tspan></text><text transform="translate(159.25,284.50) scale(0.92,1.08)" class="tt">R</text><text transform="translate(166.55,279.60) scale(1,1.1)" font-size="6.5" class="tt">2</text><text transform="translate(177.05,284.40) scale(1,1.1)" class="tt">=</text><text transform="translate(190.35,284.50) scale(0.97,1.0)" font-size="10.5" class="tt">86</text><text transform="translate(209.25,284.50) scale(0.95,1.25)" font-size="9.0" class="tt">%</text></g>
<g><clipPath id="c12"><rect x="420.60" y="289.60" width="279.00" height="88.05"/></clipPath><path d="M420.60 290.14h2.4 M699.60 290.14h-2.4 M420.60 292.07h2.4 M699.60 292.07h-2.4 M420.60 294.00h5.0 M699.60 294.00h-5.0 M420.60 295.93h2.4 M699.60 295.93h-2.4 M420.60 297.86h2.4 M699.60 297.86h-2.4 M420.60 299.79h2.4 M699.60 299.79h-2.4 M420.60 301.72h2.4 M699.60 301.72h-2.4 M420.60 303.65h2.4 M699.60 303.65h-2.4 M420.60 305.58h2.4 M699.60 305.58h-2.4 M420.60 307.51h2.4 M699.60 307.51h-2.4 M420.60 309.44h2.4 M699.60 309.44h-2.4 M420.60 311.37h2.4 M699.60 311.37h-2.4 M420.60 313.30h5.0 M699.60 313.30h-5.0 M420.60 315.23h2.4 M699.60 315.23h-2.4 M420.60 317.16h2.4 M699.60 317.16h-2.4 M420.60 319.09h2.4 M699.60 319.09h-2.4 M420.60 321.02h2.4 M699.60 321.02h-2.4 M420.60 322.95h2.4 M699.60 322.95h-2.4 M420.60 324.88h2.4 M699.60 324.88h-2.4 M420.60 326.81h2.4 M699.60 326.81h-2.4 M420.60 328.74h2.4 M699.60 328.74h-2.4 M420.60 330.67h2.4 M699.60 330.67h-2.4 M420.60 332.60h5.0 M699.60 332.60h-5.0 M420.60 334.53h2.4 M699.60 334.53h-2.4 M420.60 336.46h2.4 M699.60 336.46h-2.4 M420.60 338.39h2.4 M699.60 338.39h-2.4 M420.60 340.32h2.4 M699.60 340.32h-2.4 M420.60 342.25h2.4 M699.60 342.25h-2.4 M420.60 344.18h2.4 M699.60 344.18h-2.4 M420.60 346.11h2.4 M699.60 346.11h-2.4 M420.60 348.04h2.4 M699.60 348.04h-2.4 M420.60 349.97h2.4 M699.60 349.97h-2.4 M420.60 351.90h5.0 M699.60 351.90h-5.0 M420.60 353.83h2.4 M699.60 353.83h-2.4 M420.60 355.76h2.4 M699.60 355.76h-2.4 M420.60 357.69h2.4 M699.60 357.69h-2.4 M420.60 359.62h2.4 M699.60 359.62h-2.4 M420.60 361.55h2.4 M699.60 361.55h-2.4 M420.60 363.48h2.4 M699.60 363.48h-2.4 M420.60 365.41h2.4 M699.60 365.41h-2.4 M420.60 367.34h2.4 M699.60 367.34h-2.4 M420.60 369.27h2.4 M699.60 369.27h-2.4 M420.60 371.20h5.0 M699.60 371.20h-5.0 M420.60 373.13h2.4 M699.60 373.13h-2.4 M420.60 375.06h2.4 M699.60 375.06h-2.4 M420.60 376.99h2.4 M699.60 376.99h-2.4 M422.40 377.65v-1.9 M422.40 289.60v1.9 M430.08 377.65v-0.9 M430.08 289.60v0.9 M437.76 377.65v-0.9 M437.76 289.60v0.9 M445.44 377.65v-0.9 M445.44 289.60v0.9 M453.12 377.65v-0.9 M453.12 289.60v0.9 M460.80 377.65v-0.9 M460.80 289.60v0.9 M468.48 377.65v-0.9 M468.48 289.60v0.9 M476.16 377.65v-0.9 M476.16 289.60v0.9 M483.84 377.65v-0.9 M483.84 289.60v0.9 M491.52 377.65v-0.9 M491.52 289.60v0.9 M499.20 377.65v-1.9 M499.20 289.60v1.9 M506.88 377.65v-0.9 M506.88 289.60v0.9 M514.56 377.65v-0.9 M514.56 289.60v0.9 M522.24 377.65v-0.9 M522.24 289.60v0.9 M529.92 377.65v-0.9 M529.92 289.60v0.9 M537.60 377.65v-0.9 M537.60 289.60v0.9 M545.28 377.65v-0.9 M545.28 289.60v0.9 M552.96 377.65v-0.9 M552.96 289.60v0.9 M560.64 377.65v-0.9 M560.64 289.60v0.9 M568.32 377.65v-0.9 M568.32 289.60v0.9 M576.00 377.65v-1.9 M576.00 289.60v1.9 M583.68 377.65v-0.9 M583.68 289.60v0.9 M591.36 377.65v-0.9 M591.36 289.60v0.9 M599.04 377.65v-0.9 M599.04 289.60v0.9 M606.72 377.65v-0.9 M606.72 289.60v0.9 M614.40 377.65v-0.9 M614.40 289.60v0.9 M622.08 377.65v-0.9 M622.08 289.60v0.9 M629.76 377.65v-0.9 M629.76 289.60v0.9 M637.44 377.65v-0.9 M637.44 289.60v0.9 M645.12 377.65v-0.9 M645.12 289.60v0.9 M652.80 377.65v-1.9 M652.80 289.60v1.9 M660.48 377.65v-0.9 M660.48 289.60v0.9 M668.16 377.65v-0.9 M668.16 289.60v0.9 M675.84 377.65v-0.9 M675.84 289.60v0.9 M683.52 377.65v-0.9 M683.52 289.60v0.9 M691.20 377.65v-0.9 M691.20 289.60v0.9 M698.88 377.65v-0.9 M698.88 289.60v0.9" stroke="#000" stroke-width="1" fill="none"/><rect x="420.60" y="289.60" width="279.00" height="88.05" fill="none" stroke="#000" stroke-width="1.3"/><g clip-path="url(#c12)"><circle cx="452.1" cy="300.5" r="2.9"/><circle cx="483.9" cy="295.6" r="2.9"/><circle cx="481.7" cy="324.7" r="2.9"/><circle cx="503.8" cy="325.9" r="2.9"/><circle cx="521.7" cy="319.1" r="2.9"/><circle cx="543.3" cy="305.3" r="2.9"/><circle cx="549.8" cy="318.4" r="2.9"/><circle cx="540.6" cy="372.5" r="2.9"/><circle cx="589.0" cy="314.3" r="2.9"/><circle cx="592.9" cy="331.7" r="2.9"/><circle cx="592.6" cy="374.4" r="2.9"/><circle cx="597.0" cy="353.8" r="2.9"/><circle cx="600.1" cy="353.8" r="2.9"/><circle cx="597.5" cy="364.2" r="2.9"/><circle cx="604.7" cy="322.3" r="2.9"/><circle cx="628.0" cy="331.7" r="2.9"/><circle cx="634.6" cy="360.6" r="2.9"/><circle cx="645.0" cy="334.9" r="2.9"/><circle cx="647.2" cy="341.7" r="2.9"/><circle cx="655.9" cy="326.4" r="2.9"/><circle cx="665.3" cy="337.3" r="2.9"/><circle cx="675.3" cy="338.8" r="2.9"/><circle cx="690.3" cy="334.9" r="2.9"/><circle cx="698.8" cy="334.9" r="2.9"/><path d="M448.5 297.4h7.2M448.5 303.6h7.2M452.1 297.4v6.1M480.3 292.6h7.2M480.3 298.7h7.2M483.9 292.6v6.1M478.1 321.6h7.2M478.1 327.8h7.2M481.7 321.6v6.1M500.2 322.8h7.2M500.2 328.9h7.2M503.8 322.8v6.1M518.1 316.1h7.2M518.1 322.2h7.2M521.7 316.1v6.1M539.7 302.2h7.2M539.7 308.4h7.2M543.3 302.2v6.1M546.2 315.3h7.2M546.2 321.4h7.2M549.8 315.3v6.1M537.0 369.4h7.2M537.0 375.6h7.2M540.6 369.4v6.1M585.4 311.2h7.2M585.4 317.4h7.2M589.0 311.2v6.1M589.3 328.6h7.2M589.3 334.8h7.2M592.9 328.6v6.1M589.0 371.3h7.2M589.0 377.4h7.2M592.6 371.3v6.1M593.4 350.8h7.2M593.4 356.9h7.2M597.0 350.8v6.1M596.5 350.8h7.2M596.5 356.9h7.2M600.1 350.8v6.1M593.9 361.1h7.2M593.9 367.2h7.2M597.5 361.1v6.1M601.1 319.2h7.2M601.1 325.4h7.2M604.7 319.2v6.1M624.4 328.6h7.2M624.4 334.8h7.2M628.0 328.6v6.1M631.0 357.6h7.2M631.0 363.7h7.2M634.6 357.6v6.1M641.4 331.8h7.2M641.4 337.9h7.2M645.0 331.8v6.1M643.6 338.6h7.2M643.6 344.8h7.2M647.2 338.6v6.1M652.3 323.3h7.2M652.3 329.4h7.2M655.9 323.3v6.1M661.7 334.2h7.2M661.7 340.4h7.2M665.3 334.2v6.1M671.7 335.8h7.2M671.7 341.9h7.2M675.3 335.8v6.1M686.7 331.8h7.2M686.7 337.9h7.2M690.3 331.8v6.1M695.2 331.8h7.2M695.2 337.9h7.2M698.8 331.8v6.1" stroke="#000" stroke-width="1.2" fill="none"/></g><line x1="420.40" y1="307.30" x2="699.70" y2="349.40" stroke="#e23a3a" stroke-width="1.6" clip-path="url(#c12)"/><text transform="translate(416.70,297.60) scale(1,1.0)" text-anchor="end" class="tl">0.002</text><text transform="translate(416.70,316.90) scale(1,1.0)" text-anchor="end" class="tl">0.001</text><text transform="translate(416.70,336.20) scale(1,1.0)" text-anchor="end" class="tl">0.000</text><text transform="translate(416.70,355.50) scale(1,1.0)" text-anchor="end" class="tl">−0.001</text><text transform="translate(416.70,374.80) scale(1,1.0)" text-anchor="end" class="tl">−0.002</text><text transform="translate(379.20,334.82) rotate(-90)" text-anchor="middle" letter-spacing="0.15" stroke-width="0.05">Normalized Flux</text><text transform="translate(422.40,390.45) scale(1,1.0)" text-anchor="middle" class="tl">−2</text><text transform="translate(499.20,390.45) scale(1,1.0)" text-anchor="middle" class="tl">−1</text><text transform="translate(576.00,390.45) scale(1,1.0)" text-anchor="middle" class="tl">0</text><text transform="translate(652.80,390.45) scale(1,1.0)" text-anchor="middle" class="tl">1</text><text transform="translate(560.10,401.15) scale(1,1.0)" text-anchor="middle" xml:space="preserve" letter-spacing="0.12">Normalized X<tspan font-size="6.5" dy="1.8">psf</tspan><tspan dy="-1.8"> (deg)</tspan></text><text transform="translate(531.00,284.50) scale(0.92,1.08)" class="tt">R</text><text transform="translate(538.30,279.60) scale(1,1.1)" font-size="6.5" class="tt">2</text><text transform="translate(548.80,284.40) scale(1,1.1)" class="tt">=</text><text transform="translate(562.10,284.50) scale(0.97,1.0)" font-size="10.5" class="tt">26</text><text transform="translate(581.00,284.50) scale(0.95,1.25)" font-size="9.0" class="tt">%</text></g>
</svg></body></html>
